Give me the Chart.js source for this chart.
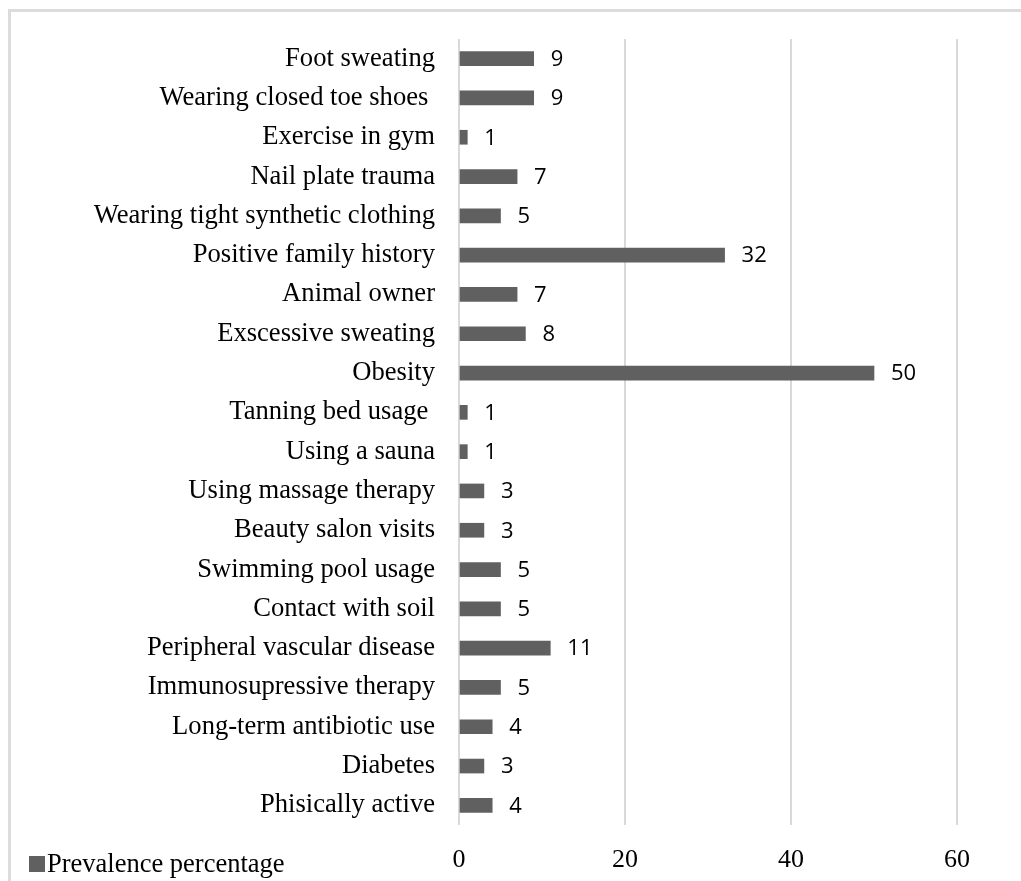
<!DOCTYPE html>
<html>
<head>
<meta charset="utf-8">
<script src="https://cdn.jsdelivr.net/npm/chart.js@4/dist/chart.umd.min.js"></script>
<style>
    body { margin: 0; background: #fff; }
    #wrap { position: relative; width: 1021px; height: 881px; overflow: hidden; }
    #frame { position: absolute; left: 8px; top: 9px; width: 1100px; height: 1000px; border: 3px solid #dcdcdc; }
    #chart { position: absolute; left: 0; top: 0; }
    #legend { position: absolute; left: 29px; top: 850px; font: 26.5px "Liberation Serif", "Times New Roman", serif; line-height: 26px; color: #000; }
    #legend .box { position: absolute; left: 0; top: 6px; width: 16px; height: 16px; }
    #legend .txt { position: absolute; left: 18px; top: 0; white-space: nowrap; }
</style>
</head>
<body>
<div id="wrap">
    <div id="frame"></div>
    <canvas id="chart" width="1021" height="881"></canvas>
    <div id="legend"></div>
</div>
<script>
// Chart data (top to bottom as shown)
const categories = [
    'Foot sweating',
    'Wearing closed toe shoes ',
    'Exercise in gym',
    'Nail plate trauma',
    'Wearing tight synthetic clothing',
    'Positive family history',
    'Animal owner',
    'Exscessive sweating',
    'Obesity',
    'Tanning bed usage ',
    'Using a sauna',
    'Using massage therapy',
    'Beauty salon visits',
    'Swimming pool usage',
    'Contact with soil',
    'Peripheral vascular disease',
    'Immunosupressive therapy',
    'Long-term antibiotic use',
    'Diabetes',
    'Phisically active'
];
const prevalence = [9, 9, 1, 7, 5, 32, 7, 8, 50, 1, 1, 3, 3, 5, 5, 11, 5, 4, 3, 4];
const seriesName = 'Prevalence percentage';
const xTicks = [0, 20, 40, 60];

const barColor = '#606060';
const serif = '"Liberation Serif", "Times New Roman", serif';

// Value labels to the right of each bar
const valueLabels = {
    id: 'valueLabels',
    afterDatasetsDraw(chart) {
        const ctx = chart.ctx;
        const meta = chart.getDatasetMeta(0);
        ctx.save();
        ctx.font = '22px "Open Sans", sans-serif';
        ctx.fillStyle = '#000';
        ctx.textAlign = 'left';
        ctx.textBaseline = 'middle';
        meta.data.forEach((bar, i) => {
            ctx.fillText(String(prevalence[i]), bar.x + 17, bar.y + 1);
        });
        ctx.restore();
    }
};

const ctx = document.getElementById('chart').getContext('2d');
const chart = new Chart(ctx, {
    type: 'bar',
    data: {
        labels: categories,
        datasets: [{
            label: seriesName,
            data: prevalence,
            backgroundColor: barColor,
            borderWidth: 0,
            barThickness: 14
        }]
    },
    options: {
        indexAxis: 'y',
        responsive: false,
        animation: false,
        layout: { padding: { top: 39, right: 64, left: 0, bottom: 0 } },
        plugins: {
            legend: { display: false },
            tooltip: { enabled: false }
        },
        scales: {
            x: {
                min: 0,
                max: 60,
                afterBuildTicks: (scale) => { scale.ticks = xTicks.map(v => ({ value: v })); },
                afterFit: (scale) => { scale.height = 56; },
                grid: { color: '#d9d9d9', lineWidth: 2, drawTicks: false },
                border: { display: false },
                ticks: {
                    padding: 20,
                    color: '#000',
                    font: { family: serif, size: 26 }
                }
            },
            y: {
                afterFit: (scale) => { scale.width = 459; },
                grid: { display: false },
                border: { display: false },
                ticks: {
                    autoSkip: false,
                    padding: 16,
                    color: '#000',
                    font: { family: serif, size: 26.6 }
                }
            }
        }
    },
    plugins: [valueLabels]
});

// Legend built from the dataset
const legend = document.getElementById('legend');
legend.innerHTML = `<span class="box" style="background:${barColor}"></span><span class="txt">${seriesName}</span>`;
</script>
</body>
</html>
